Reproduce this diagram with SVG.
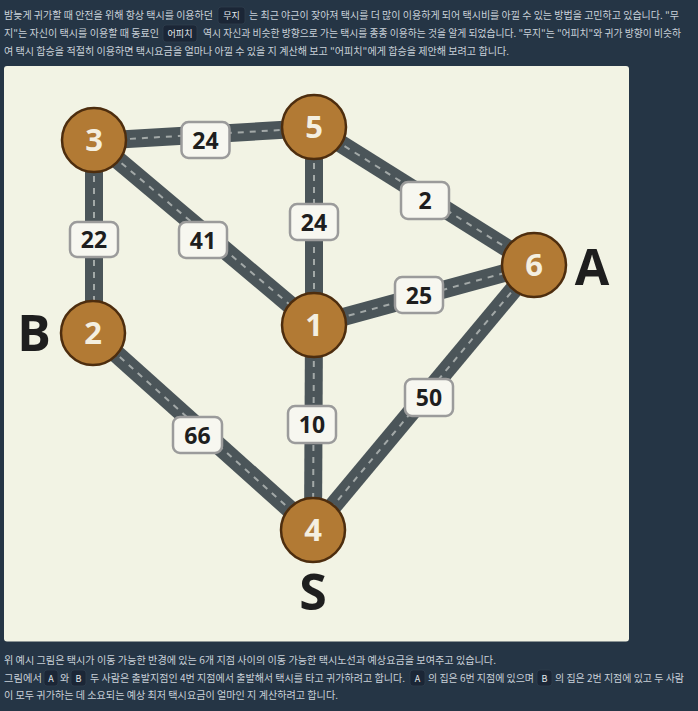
<svg xmlns="http://www.w3.org/2000/svg" width="698" height="711" viewBox="0 0 698 711">
<style>
.t{font-family:"Noto Sans CJK KR","Noto Sans",sans-serif;font-size:10px;fill:#c9d1d9}
.bt{font-family:"Noto Sans CJK KR","Noto Sans",sans-serif;font-size:9px;fill:#e6ebef;text-anchor:middle}
.badge{fill:#1b2636;stroke:#2f3d4d;stroke-width:0.8}
.road{stroke:#4b5559;stroke-width:18;fill:none}
.dash{stroke:#a3a9a8;stroke-width:2;stroke-dasharray:6 6;fill:none}
.node circle{fill:#b27a34;stroke:#4d2d0e;stroke-width:2.5}
.node text{font-family:"Open Sans","DejaVu Sans",sans-serif;font-weight:bold;font-size:31px;fill:#f4efe0;text-anchor:middle}
.lbl rect{fill:#f7f7f0;stroke:#9b9b9b;stroke-width:2.5}
.lbl text{font-family:"Open Sans","DejaVu Sans",sans-serif;font-weight:bold;font-size:23px;fill:#1e1e1e;text-anchor:middle}
.big{font-family:"Open Sans","DejaVu Sans",sans-serif;font-weight:bold;font-size:50px;fill:#1e1e1e;text-anchor:middle}
</style>
<rect width="698" height="711" fill="#253545"/>
<g id="intro">
<text class="t" x="4" y="19" textLength="209" lengthAdjust="spacingAndGlyphs">밤늦게 귀가할 때 안전을 위해 항상 택시를 이용하던</text>
<rect class="badge" x="218" y="7" width="27" height="17" rx="3"/>
<text class="bt" x="231.5" y="19">무지</text>
<text class="t" x="249" y="19" textLength="430" lengthAdjust="spacingAndGlyphs">는 최근 야근이 잦아져 택시를 더 많이 이용하게 되어 택시비를 아낄 수 있는 방법을 고민하고 있습니다. "무</text>
<text class="t" x="4" y="37" textLength="155" lengthAdjust="spacingAndGlyphs">지"는 자신이 택시를 이용할 때 동료인</text>
<rect class="badge" x="163" y="25" width="34" height="17" rx="3"/>
<text class="bt" x="180" y="37">어피치</text>
<text class="t" x="203" y="37" textLength="478" lengthAdjust="spacingAndGlyphs">역시 자신과 비슷한 방향으로 가는 택시를 종종 이용하는 것을 알게 되었습니다. "무지"는 "어피치"와 귀가 방향이 비슷하</text>
<text class="t" x="4" y="55" textLength="505" lengthAdjust="spacingAndGlyphs">여 택시 합승을 적절히 이용하면 택시요금을 얼마나 아낄 수 있을 지 계산해 보고 "어피치"에게 합승을 제안해 보려고 합니다.</text>
</g>
<rect id="panel" x="4" y="66" width="625" height="575.5" rx="3" fill="#f2f3e4"/>
<g id="connectors">
<line class="road" x1="94" y1="141" x2="314" y2="128"/><line class="dash" x1="94" y1="141" x2="314" y2="128"/>
<line class="road" x1="94" y1="140" x2="94" y2="333"/><line class="dash" x1="94" y1="140" x2="94" y2="333"/>
<line class="road" x1="94" y1="140" x2="314" y2="325"/><line class="dash" x1="94" y1="140" x2="314" y2="325"/>
<line class="road" x1="314" y1="127" x2="314" y2="325"/><line class="dash" x1="314" y1="127" x2="314" y2="325"/>
<line class="road" x1="314" y1="127" x2="534" y2="265"/><line class="dash" x1="314" y1="127" x2="534" y2="265"/>
<line class="road" x1="314" y1="325" x2="534" y2="265"/><line class="dash" x1="314" y1="325" x2="534" y2="265"/>
<line class="road" x1="93" y1="333" x2="313" y2="530"/><line class="dash" x1="93" y1="333" x2="313" y2="530"/>
<line class="road" x1="314" y1="325" x2="313" y2="530"/><line class="dash" x1="314" y1="325" x2="313" y2="530"/>
<line class="road" x1="534" y1="265" x2="313" y2="530"/><line class="dash" x1="534" y1="265" x2="313" y2="530"/>
</g>
<g id="labels">
<g class="lbl"><rect x="181.5" y="122" width="48" height="36" rx="7"/><text x="205.5" y="148.5">24</text></g>
<g class="lbl"><rect x="70" y="222" width="48" height="35" rx="7"/><text x="94" y="248">22</text></g>
<g class="lbl"><rect x="179" y="222" width="48" height="36" rx="7"/><text x="203" y="248.5">41</text></g>
<g class="lbl"><rect x="290" y="204" width="48" height="36" rx="7"/><text x="314" y="230.5">24</text></g>
<g class="lbl"><rect x="401" y="182" width="48" height="37" rx="7"/><text x="425" y="209">2</text></g>
<g class="lbl"><rect x="395" y="277" width="48" height="36" rx="7"/><text x="419" y="303.5">25</text></g>
<g class="lbl"><rect x="173" y="417" width="49" height="36" rx="7"/><text x="197.5" y="443.5">66</text></g>
<g class="lbl"><rect x="288" y="406" width="48" height="37" rx="7"/><text x="312" y="433">10</text></g>
<g class="lbl"><rect x="405" y="379" width="48" height="37" rx="7"/><text x="429" y="406">50</text></g>
</g>
<g id="node3" class="node"><circle cx="94" cy="140" r="32"/><text x="94" y="151">3</text></g>
<g id="node5" class="node"><circle cx="314" cy="127" r="32"/><text x="314" y="138">5</text></g>
<g id="node2" class="node"><circle cx="93" cy="333" r="32"/><text x="93" y="344">2</text></g>
<g id="node1" class="node"><circle cx="314" cy="325" r="32"/><text x="314" y="336">1</text></g>
<g id="node6" class="node"><circle cx="534" cy="265" r="32"/><text x="534" y="276">6</text></g>
<g id="node4" class="node"><circle cx="313" cy="530" r="32"/><text x="313" y="541">4</text></g>
<text class="big" x="34" y="351">B</text>
<text class="big" x="592" y="285">A</text>
<text class="big" x="313" y="610">S</text>
<g id="outro">
<text class="t" x="4" y="664" textLength="492" lengthAdjust="spacingAndGlyphs">위 예시 그림은 택시가 이동 가능한 반경에 있는 6개 지점 사이의 이동 가능한 택시노선과 예상요금을 보여주고 있습니다.</text>
<text class="t" x="4" y="682" textLength="38" lengthAdjust="spacingAndGlyphs">그림에서</text>
<rect class="badge" x="44" y="670" width="14" height="16" rx="3"/><text class="bt" x="51" y="681.5">A</text>
<text class="t" x="60" y="682">와</text>
<rect class="badge" x="71" y="670" width="15" height="16" rx="3"/><text class="bt" x="78.5" y="681.5">B</text>
<text class="t" x="90" y="682" textLength="315" lengthAdjust="spacingAndGlyphs">두 사람은 출발지점인 4번 지점에서 출발해서 택시를 타고 귀가하려고 합니다.</text>
<rect class="badge" x="410" y="670" width="15" height="16" rx="3"/><text class="bt" x="417.5" y="681.5">A</text>
<text class="t" x="428" y="682" textLength="106" lengthAdjust="spacingAndGlyphs">의 집은 6번 지점에 있으며</text>
<rect class="badge" x="537" y="670" width="15" height="16" rx="3"/><text class="bt" x="544.5" y="681.5">B</text>
<text class="t" x="555" y="682" textLength="129" lengthAdjust="spacingAndGlyphs">의 집은 2번 지점에 있고 두 사람</text>
<text class="t" x="4" y="699" textLength="334" lengthAdjust="spacingAndGlyphs">이 모두 귀가하는 데 소요되는 예상 최저 택시요금이 얼마인 지 계산하려고 합니다.</text>
</g>
</svg>
